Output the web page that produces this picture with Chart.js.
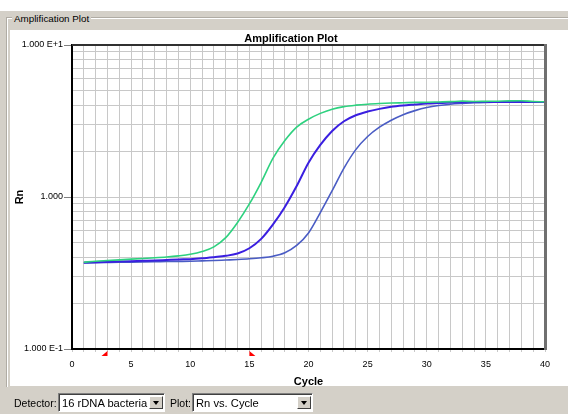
<!DOCTYPE html>
<html>
<head>
<meta charset="utf-8">
<script src="https://cdn.jsdelivr.net/npm/chart.js@4/dist/chart.umd.min.js"></script>
<style>
  html, body { margin:0; padding:0; }
  body { width:568px; height:414px; position:relative; overflow:hidden; background:#D4D0C8; font-family:"Liberation Sans", Arial, sans-serif; }
  .topwhite { position:absolute; left:0; top:0; width:568px; height:11px; background:#fff; }
  .etchH { position:absolute; left:6px; top:17px; width:562px; height:1px; background:#B0ACA4; }
  .etchH2 { position:absolute; left:7px; top:18px; width:561px; height:1px; background:#fff; }
  .etchV { position:absolute; left:6px; top:17px; width:1px; height:370px; background:#B0ACA4; }
  .etchV2 { position:absolute; left:7px; top:18px; width:1px; height:369px; background:#fff; }
  .grouplabel { position:absolute; left:12px; top:12px; padding:0 2px; background:#D4D0C8; font-size:9.8px; line-height:13px; color:#000; }
  .plotbg { position:absolute; left:10px; top:30px; width:558px; height:356px; background:#fff; }
  .charttitle { position:absolute; z-index:3; left:10px; top:31px; width:562px; text-align:center; font-size:11px; font-weight:bold; line-height:14px; color:#000; }
  canvas#c { position:absolute; left:0; top:0; z-index:2; }
  .ctl { position:absolute; z-index:3; font-size:10.5px; color:#000; line-height:13px; }
  .combo { position:absolute; z-index:3; top:393px; height:17px; background:#fff; overflow:hidden;
           border-top:1px solid #808080; border-left:1px solid #808080; border-right:1px solid #fff; border-bottom:1px solid #fff;
           box-shadow: inset 1px 1px 0 #404040; }
  .combo .txt { position:absolute; left:3px; top:1px; font-size:11.2px; line-height:16px; color:#000; white-space:nowrap; }
  .combo .btn { position:absolute; right:1px; top:2px; width:14px; height:13px; background:#D4D0C8;
                border-top:1px solid #fff; border-left:1px solid #fff; border-right:1px solid #404040; border-bottom:1px solid #404040; box-sizing:border-box; }
  .combo .btn:after { content:""; position:absolute; left:3px; top:4px; width:0; height:0;
                border-left:3.5px solid transparent; border-right:3.5px solid transparent; border-top:4px solid #000; }
</style>
</head>
<body>
<div class="topwhite"></div>
<div class="plotbg"></div>
<div class="etchH"></div><div class="etchH2"></div>
<div class="etchV"></div><div class="etchV2"></div>
<div class="grouplabel">Amplification Plot</div>
<div class="charttitle">Amplification Plot</div>
<canvas id="c" width="568" height="414"></canvas>
<div class="ctl" style="left:14px; top:397px;">Detector:</div>
<div class="combo" style="left:58px; width:105px;"><span class="txt">16 rDNA bacteria</span><span class="btn"></span></div>
<div class="ctl" style="left:170px; top:397px;">Plot:</div>
<div class="combo" style="left:192px; width:119px;"><span class="txt">Rn vs. Cycle</span><span class="btn"></span></div>
<script>
// ---- data ----
const cycles = [1,2,3,4,5,6,7,8,9,10,11,12,13,14,15,16,17,18,19,20,21,22,23,24,25,26,27,28,29,30,31,32,33,34,35,36,37,38,39,40];
const sampleGreen = [0.372,0.378,0.382,0.386,0.39,0.394,0.398,0.403,0.41,0.42,0.438,0.47,0.54,0.68,0.9,1.25,1.8,2.35,2.88,3.25,3.55,3.78,3.93,4.02,4.08,4.12,4.15,4.17,4.19,4.2,4.22,4.24,4.27,4.25,4.26,4.27,4.29,4.3,4.25,4.23];
const samplePurple = [0.37,0.372,0.374,0.376,0.378,0.38,0.382,0.385,0.388,0.39,0.395,0.402,0.41,0.425,0.46,0.53,0.66,0.86,1.18,1.68,2.2,2.72,3.15,3.45,3.65,3.8,3.92,4.0,4.06,4.12,4.15,4.18,4.2,4.21,4.22,4.22,4.22,4.22,4.22,4.22];
const sampleSlate = [0.368,0.37,0.371,0.372,0.373,0.374,0.375,0.376,0.377,0.378,0.38,0.382,0.385,0.388,0.392,0.398,0.408,0.43,0.48,0.58,0.79,1.1,1.55,2.05,2.5,2.88,3.2,3.48,3.7,3.88,4.0,4.08,4.13,4.17,4.19,4.2,4.21,4.22,4.22,4.22];
const xTickValues = [0,1,2,3,4,5,6,7,8,9,10,11,12,13,14,15,16,17,18,19,20,21,22,23,24,25,26,27,28,29,30,31,32,33,34,35,36,37,38,39,40];
const xLabelValues = [0,5,10,15,20,25,30,35,40];
const yTickValues = [0.1,0.2,0.3,0.4,0.5,0.6,0.7,0.8,0.9,1,2,3,4,5,6,7,8,9,10];
const yLabelValues = [0.1,1,10];
const yLabelTexts = ['1.000 E-1','1.000','1.000 E+1'];
const baselineRange = [3,15];

const FONT = '"Liberation Sans", Arial, sans-serif';
const pts = arr => cycles.map((c,i)=>({x:c, y:arr[i]}));
const near = (a,b) => Math.abs(a-b) < 1e-9;
const yLabelFor = v => { for (let i=0;i<yLabelValues.length;i++) if (near(v,yLabelValues[i])) return yLabelTexts[i]; return ''; };

const framePlugin = {
  id:'frame',
  afterDraw(chart){
    const {ctx, chartArea:a} = chart;
    const xs = chart.scales.x;
    ctx.save();
    ctx.strokeStyle = '#303030'; ctx.lineWidth = 2;
    ctx.beginPath(); ctx.moveTo(a.left, a.top); ctx.lineTo(a.right, a.top); ctx.stroke();
    ctx.strokeStyle = '#707070'; ctx.lineWidth = 3;
    ctx.beginPath(); ctx.moveTo(a.right+0.5, a.top-1); ctx.lineTo(a.right+0.5, a.bottom+1); ctx.stroke();
    ctx.fillStyle = '#FF0000';
    const p0 = xs.getPixelForValue(baselineRange[0]);
    const p1 = xs.getPixelForValue(baselineRange[1]);
    const yb = a.bottom + 2, yt = a.bottom + 7;
    ctx.beginPath(); ctx.moveTo(p0, yb); ctx.lineTo(p0, yt); ctx.lineTo(p0-6, yt); ctx.closePath(); ctx.fill();
    ctx.beginPath(); ctx.moveTo(p1, yb); ctx.lineTo(p1, yt); ctx.lineTo(p1+6, yt); ctx.closePath(); ctx.fill();
    ctx.restore();
  }
};

new Chart(document.getElementById('c'), {
  type:'line',
  data:{
    datasets:[
      {label:'A', data:pts(sampleGreen), borderColor:'#2ED17F', borderWidth:1.6},
      {label:'B', data:pts(samplePurple), borderColor:'#3A1FE0', borderWidth:2},
      {label:'C', data:pts(sampleSlate), borderColor:'#4A5CC4', borderWidth:1.6}
    ]
  },
  options:{
    responsive:false, devicePixelRatio:1, animation:false,
    layout:{ padding:{left:0, right:23, top:45, bottom:0} },
    elements:{ point:{radius:0}, line:{cubicInterpolationMode:'monotone'} },
    plugins:{ legend:{display:false}, tooltip:{enabled:false}, title:{display:false} },
    scales:{
      x:{
        type:'linear', min:0, max:40,
        afterBuildTicks: s => { s.ticks = xTickValues.map(v=>({value:v})); },
        afterFit: s => { s.height = 65; },
        ticks:{ autoSkip:false, maxRotation:0, color:'#000', padding:7,
                font:{family:FONT, size:9},
                callback: v => xLabelValues.includes(v) ? String(v) : '' },
        grid:{ color:'#C8C8C8', lineWidth:1, tickLength:3, tickColor:'#C8C8C8' },
        border:{ color:'#000', width:2 },
        title:{ display:true, text:'Cycle', color:'#000', font:{family:FONT, size:11, weight:'bold', lineHeight:1}, padding:{top:0, bottom:27} }
      },
      y:{
        type:'logarithmic', min:0.1, max:10,
        afterBuildTicks: s => { s.ticks = yTickValues.map(v=>({value:v})); },
        afterFit: s => { s.width = 72; },
        ticks:{ autoSkip:false, color:'#000', padding:1, font:{family:FONT, size:9},
                callback: v => yLabelFor(v) },
        grid:{ color:'#C8C8C8', lineWidth:1, tickLength:8,
               tickColor: ctx => (ctx.tick && yLabelValues.some(v=>near(v, ctx.tick.value))) ? '#808080' : 'rgba(0,0,0,0)' },
        border:{ color:'#000', width:2 },
        title:{ display:true, text:'Rn', color:'#000', font:{family:FONT, size:11, weight:'bold', lineHeight:1}, padding:{top:14, bottom:0} }
      }
    }
  },
  plugins:[framePlugin]
});
</script>
</body>
</html>
